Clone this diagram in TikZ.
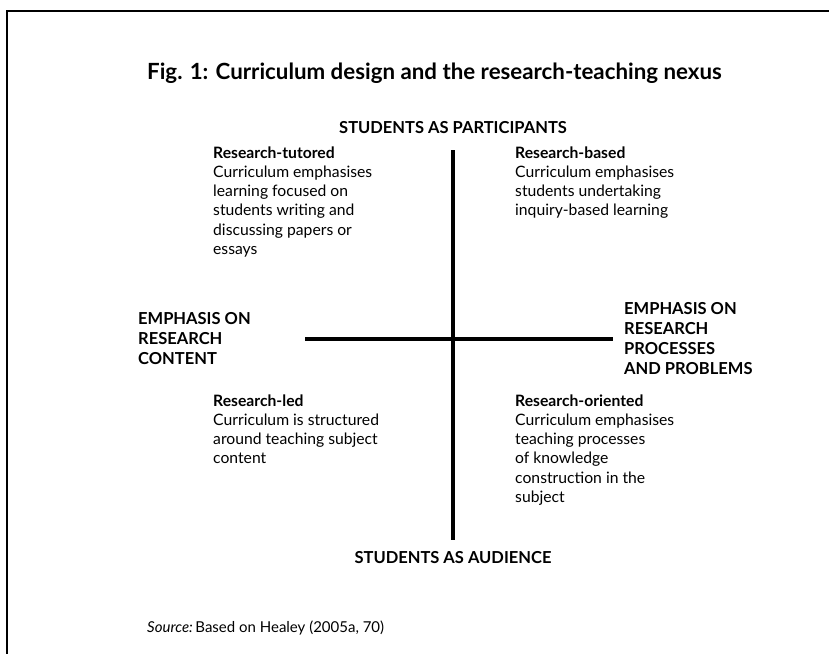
\documentclass[tikz,border=0pt]{standalone}
\usepackage{fontspec}
\setmainfont{Lato}
\usetikzlibrary{positioning}

\tikzset{
    capslabel/.style={font=\bfseries\fontsize{16.5}{20}\selectfont, align=left, inner sep=0pt},
    quadtext/.style={font=\fontsize{15.7}{19.3}\selectfont, align=left, anchor=base west, inner sep=0pt},
    axisline/.style={line width=3.2pt},
}

\begin{document}
\begin{tikzpicture}[x=1pt,y=-1pt]
            \useasboundingbox (0,0) rectangle (829,653);
            \draw[line width=1.6pt] (7,660)--(7,11)--(835,11);
            \node[anchor=base west, inner sep=0pt, font=\bfseries\fontsize{22.3}{26}\selectfont] (title) at (147,79) {Fig. 1: Curriculum design and the research-teaching nexus};

            \coordinate (top) at (453,150);
            \coordinate (bot) at (453,540);
            \coordinate (lft) at (305,339);
            \coordinate (rgt) at (613,339);
            \draw[axisline] (top)--(bot);
            \draw[axisline] (lft)--(rgt);

            % base anchor of a multi-line node sits on its last line
            \node[capslabel, anchor=base] (part) at (453,133) {STUDENTS AS PARTICIPANTS};
            \node[capslabel, anchor=base] (aud) at (453,563) {STUDENTS AS AUDIENCE};
            \node[capslabel, anchor=base west] (content) at (138,364) {EMPHASIS ON\\RESEARCH\\CONTENT};
            \node[capslabel, anchor=base west] (process) at (624,374) {EMPHASIS ON\\RESEARCH\\PROCESSES\\AND PROBLEMS};

            \node[quadtext] (tutored) at (213,254.5) {\textbf{Research-tutored}\\Curriculum emphasises\\learning focused on\\students writing and\\discussing papers or\\essays};
            \node[quadtext] (based) at (515,215.9) {\textbf{Research-based}\\Curriculum emphasises\\students undertaking\\inquiry-based learning};
            \node[quadtext] (led) at (213,463.9) {\textbf{Research-led}\\Curriculum is structured\\around teaching subject\\content};
            \node[quadtext] (oriented) at (515,502.5) {\textbf{Research-oriented}\\Curriculum emphasises\\teaching processes\\of knowledge\\construction in the\\subject};

            \node[anchor=base west, inner sep=0pt, font=\fontsize{15}{18}\selectfont] (source) at (147,632) {\textit{Source:}\,Based on Healey (2005a, 70)};
        \end{tikzpicture}
\end{document}
